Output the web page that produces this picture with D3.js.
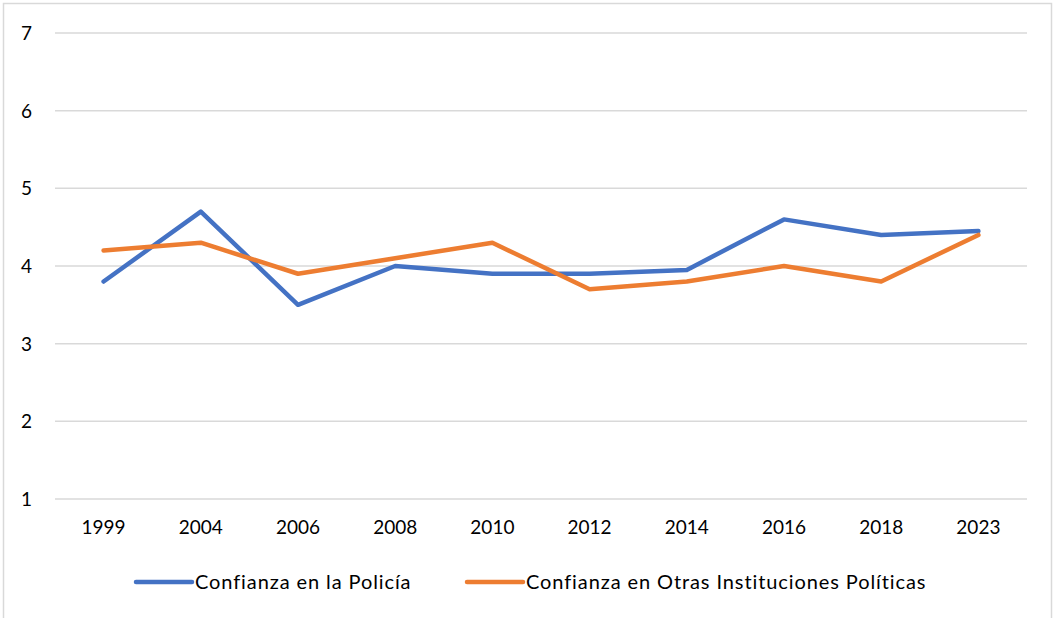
<!DOCTYPE html>
<html>
<head>
<meta charset="utf-8">
<script src="https://cdn.jsdelivr.net/npm/d3@7"></script>
<style>
  html, body { margin: 0; padding: 0; background: #fff; }
  text { font-family: Lato, "Open Sans", sans-serif; fill: #000; }
</style>
</head>
<body>
<div id="chart"></div>
<script>
// Años de la encuesta
const years = ['1999', '2004', '2006', '2008', '2010', '2012', '2014', '2016', '2018', '2023']
// Confianza en la Policía
const policia = [3.8, 4.7, 3.5, 4.0, 3.9, 3.9, 3.95, 4.6, 4.4, 4.45]
// Confianza en Otras Instituciones Políticas
const otras = [4.2, 4.3, 3.9, 4.1, 4.3, 3.7, 3.8, 4.0, 3.8, 4.4]
const yTicks = [1, 2, 3, 4, 5, 6, 7]
const seriesNames = ['Confianza en la Policía', 'Confianza en Otras Instituciones Políticas']
const seriesColors = ['#4472C4', '#ED7D31']

const W = 1055
const H = 618
const margin = { top: 33, right: 28, bottom: 119, left: 55 }
const width = W - margin.left - margin.right
const height = H - margin.top - margin.bottom

const svg = d3.select('#chart')
  .append('svg')
  .attr('width', W)
  .attr('height', H)

// Marco del gráfico
svg.append('rect')
  .attr('x', 3.5)
  .attr('y', 3.5)
  .attr('width', W - 7)
  .attr('height', H)
  .attr('fill', 'none')
  .attr('stroke', '#d9d9d9')
  .attr('stroke-width', 1.5)

const g = svg.append('g')
  .attr('transform', `translate(${margin.left},${margin.top})`)

const x = d3.scaleBand()
  .domain(years)
  .range([0, width])

const y = d3.scaleLinear()
  .domain([1, 7])
  .range([height, 0])

// Líneas de cuadrícula
g.append('g')
  .selectAll('line')
  .data(yTicks)
  .enter()
  .append('line')
  .attr('x1', 0)
  .attr('x2', width)
  .attr('y1', d => y(d))
  .attr('y2', d => y(d))
  .attr('stroke', '#d9d9d9')
  .attr('stroke-width', 1.5)

// Eje Y
const yAxis = g.append('g')
  .call(d3.axisLeft(y).tickValues(yTicks).tickFormat(d3.format('d')).tickSize(0).tickPadding(23))
yAxis.select('.domain').remove()
yAxis.selectAll('text')
  .style('font-size', '19px')
  .attr('dy', '0.35em')

// Eje X
const xAxis = g.append('g')
  .attr('transform', `translate(0,${height})`)
  .call(d3.axisBottom(x).tickSize(0).tickPadding(22))
xAxis.select('.domain').remove()
xAxis.selectAll('text')
  .style('font-size', '19px')

// Líneas de series
const line = d3.line()
  .x((d, i) => x(years[i]) + x.bandwidth() / 2)
  .y(d => y(d))

const series = [policia, otras]
series.forEach((vals, i) => {
  g.append('path')
    .datum(vals)
    .attr('fill', 'none')
    .attr('stroke', seriesColors[i])
    .attr('stroke-width', 4.5)
    .attr('stroke-linejoin', 'round')
    .attr('stroke-linecap', 'round')
    .attr('d', line)
})

// Leyenda
const legendX = [136, 467]
const legend = svg.append('g')
  .attr('transform', 'translate(0, 582)')

seriesNames.forEach((name, i) => {
  legend.append('line')
    .attr('x1', legendX[i])
    .attr('x2', legendX[i] + 56)
    .attr('y1', 0)
    .attr('y2', 0)
    .attr('stroke', seriesColors[i])
    .attr('stroke-width', 4.5)
    .attr('stroke-linecap', 'round')
  legend.append('text')
    .attr('x', legendX[i] + 59)
    .attr('y', 0)
    .attr('dy', '0.35em')
    .style('font-size', '20px')
    .style('letter-spacing', '0.9px')
    .text(name)
})
</script>
</body>
</html>
